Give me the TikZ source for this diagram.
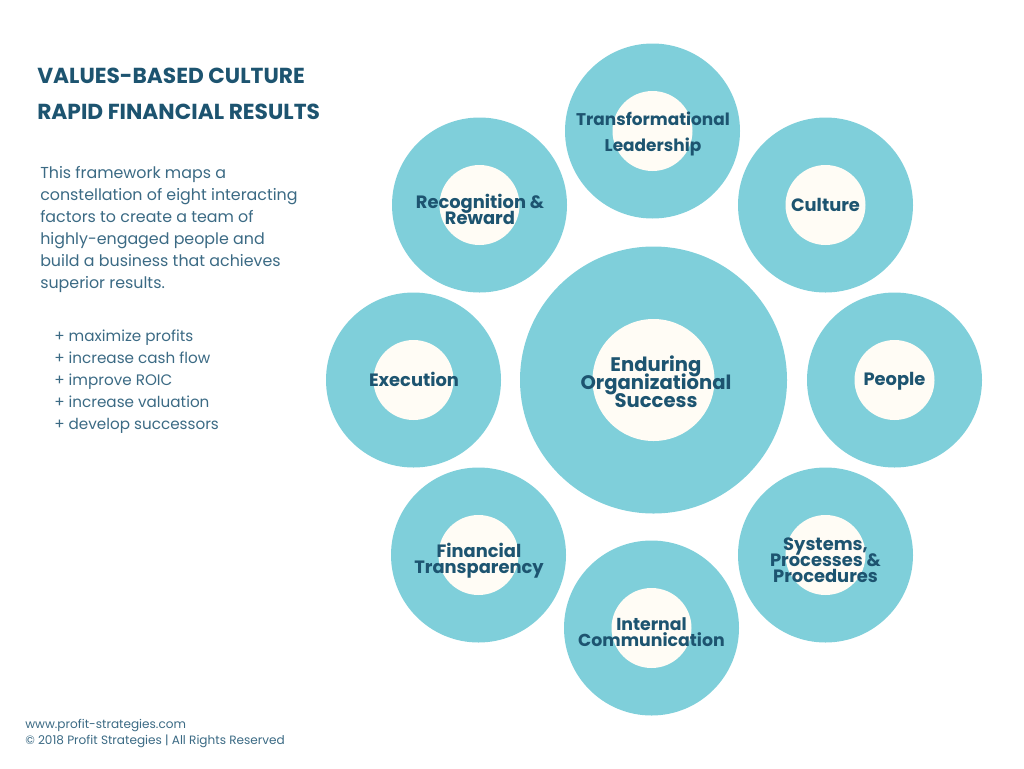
\documentclass[tikz,border=0pt]{standalone}
\usepackage{fontspec}
\setmainfont{Poppins}
\definecolor{teal}{HTML}{7FCFDA}
\definecolor{cream}{HTML}{FFFCF5}
\definecolor{navy}{HTML}{1D5470}
\definecolor{slate}{HTML}{3B6A84}
\newcommand{\tightlines}{\lineskiplimit=-100pt\relax}
\tikzset{
	ring/.style = {circle, fill = teal, inner sep = 0, minimum size = 175*0.75pt},
	disc/.style = {circle, fill = cream, inner sep = 0, minimum size = 80*0.75pt},
	factor/.style = {align = center, inner sep = 0, text = navy, font = \fontsize{13.4}{12}\selectfont\bfseries\tightlines},
	heading/.style = {anchor = west, inner sep = 0, text = navy, font = \fontsize{16.3}{18}\selectfont\bfseries},
	body/.style = {anchor = north west, align = left, inner sep = 0, text = slate, font = \fontsize{11.9}{16.5}\selectfont}
}
\begin{document}
\begin{tikzpicture}[x = 0.75pt, y = -0.75pt]
\useasboundingbox (0,0) rectangle (1024,768);
% outer factors
\foreach \nm/\x/\y in {lead/652.5/131, recog/479.5/205, cult/825.5/205, exec/413.5/380, peop/894.5/380, fin/478.5/555, sys/825.5/555, comm/651.5/628} {
	\node[ring] (\nm) at (\x,\y) {};
	\node[disc] (\nm in) at (\nm) {};
}
% centre
\node[ring, minimum size = 267*0.75pt] (core) at (653.5,380) {};
\node[disc, minimum size = 122*0.75pt] (core in) at (core) {};
\node[factor, font = \fontsize{12.7}{19.5}\selectfont\bfseries] (lead label) at (653,134) {Transformational\\Leadership};
\node[factor] (recog label) at (480,209) {Recognition \&\\Reward};
\node[factor] (cult label) at (cult) {Culture};
\node[factor] (exec label) at (414,379) {Execution};
\node[factor] (peop label) at (894.5,381) {People};
\node[factor] (fin label) at (479,561) {Financial\\Transparency};
\node[factor] (sys label) at (825.5,560) {Systems,\\Processes \&\\Procedures};
\node[factor, font = \fontsize{13}{12}\selectfont\bfseries\tightlines] (comm label) at (651.5,632) {Internal\\Communication};
\node[factor, font = \fontsize{14.7}{13.5}\selectfont\bfseries\tightlines] (core label) at (656,382) {Enduring\\Organizational\\Success};
% left column
\node[heading] (title a) at (37,76) {VALUES-BASED CULTURE};
\node[heading] (title b) at (37,112) {RAPID FINANCIAL RESULTS};
\node[body] (intro) at (40,166) {This framework maps a\\constellation of eight interacting\\factors to create a team of\\highly-engaged people and\\build a business that achieves\\superior results.};
\node[body, font = \fontsize{11.4}{16.5}\selectfont] (gains) at (54,330) {+ maximize profits\\+ increase cash flow\\+ improve ROIC\\+ increase valuation\\+ develop successors};
\node[body, font = \fontsize{9.05}{12}\selectfont] (foot) at (25,719) {www.profit-strategies.com\\© 2018 Profit Strategies | All Rights Reserved};
\end{tikzpicture}
\end{document}
